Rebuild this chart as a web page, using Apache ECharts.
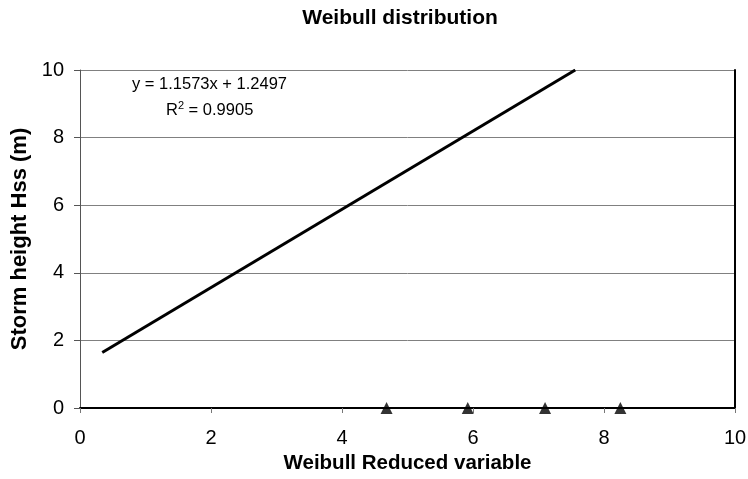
<!DOCTYPE html>
<html><head><meta charset="utf-8">
<script src="https://cdn.jsdelivr.net/npm/echarts@6/dist/echarts.min.js"></script>
<style>html,body{margin:0;padding:0;background:#fff}#c{width:748px;height:479px}</style>
</head><body><div id="c"></div>
<script>
var titleText = 'Weibull distribution';
var xName = 'Weibull Reduced variable';
var yName = 'Storm height Hss (m)';
var equationText = 'y = 1.1573x + 1.2497';
var r2Text = '0.9905';
var trendX = [0.34, 7.561];
var trendY = [1.643, 10.0];
var pointsX = [4.68, 5.92, 7.10, 8.25];
var pointsY = [0, 0, 0, 0];

var FONT = '"Liberation Sans", Arial, sans-serif';
var chart = echarts.init(document.getElementById('c'), null, {renderer: 'canvas'});
chart.setOption({
  animation: false,
  backgroundColor: '#fff',
  title: {
    text: titleText, left: 395, top: 3, textAlign: 'center',
    textStyle: {fontFamily: FONT, fontSize: 21, fontWeight: 'bold', color: '#000'}
  },
  grid: {left: 80, right: 13, top: 70, bottom: 71, containLabel: false, outerBoundsMode: 'none'},
  xAxis: {
    type: 'value', min: 0, max: 10, interval: 2,
    name: xName, nameLocation: 'middle', nameGap: 43,
    nameTextStyle: {fontFamily: FONT, fontSize: 20.5, fontWeight: 'bold', color: '#000'},
    axisLine: {show: true, onZero: false, lineStyle: {color: '#000', width: 2}},
    axisTick: {show: true, length: 5, lineStyle: {color: '#777'}},
    axisLabel: {fontFamily: FONT, fontSize: 20, color: '#000', margin: 20},
    splitLine: {show: false}
  },
  yAxis: [{
    type: 'value', min: 0, max: 10, interval: 2,
    name: yName, nameLocation: 'middle', nameGap: 49,
    nameTextStyle: {fontFamily: FONT, fontSize: 22, fontWeight: 'bold', color: '#000'},
    axisLine: {show: true, lineStyle: {color: '#555', width: 1}},
    axisTick: {show: true, length: 6, lineStyle: {color: '#555'}},
    axisLabel: {fontFamily: FONT, fontSize: 20, color: '#000', margin: 16},
    splitLine: {show: true, lineStyle: {color: '#808080', width: 1}}
  }, {
    type: 'value', min: 0, max: 10, position: 'right',
    axisLine: {show: true, lineStyle: {color: '#000', width: 2}},
    axisTick: {show: false}, axisLabel: {show: false}, splitLine: {show: false}
  }],
  graphic: [{
    type: 'text', left: 132, top: 76,
    style: {text: equationText, font: '16.5px ' + FONT, fill: '#000'}
  }, {
    type: 'text', left: 166, top: 100,
    style: {
      text: '{a|R}{s|2}{a| = ' + r2Text + '}',
      rich: {
        a: {fontFamily: FONT, fontSize: 16.5, color: '#000', verticalAlign: 'bottom'},
        s: {fontFamily: FONT, fontSize: 11, color: '#000', verticalAlign: 'top', padding: [0, 0, 8, 0]}
      }
    }
  }],
  series: [{
    type: 'line',
    data: trendX.map(function (x, i) { return [x, trendY[i]]; }),
    showSymbol: false, symbol: 'none',
    lineStyle: {color: '#000', width: 3},
    z: 3
  }, {
    type: 'scatter',
    data: pointsX.map(function (x, i) { return [x, pointsY[i]]; }),
    symbol: 'triangle', symbolSize: [12, 12],
    itemStyle: {color: '#000'},
    clip: false, z: 4
  }]
});
</script></body></html>
